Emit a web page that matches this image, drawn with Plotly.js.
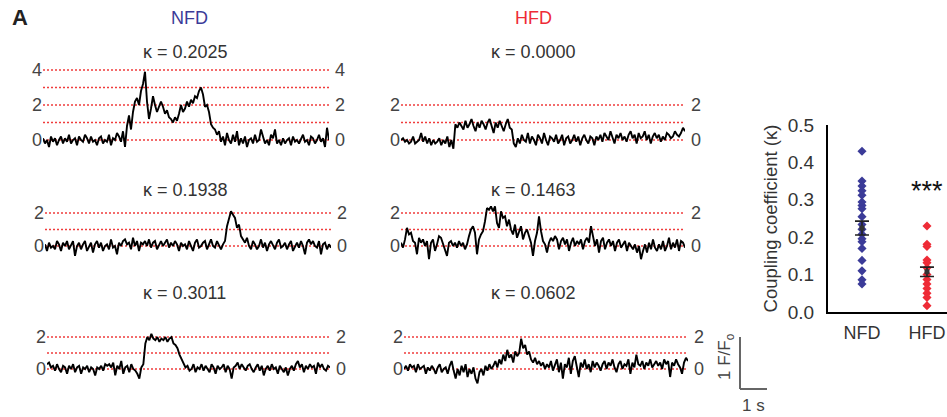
<!DOCTYPE html>
<html><head><meta charset="utf-8">
<script src="https://cdn.plot.ly/plotly-3.0.1.min.js"></script>
<style>html,body{margin:0;padding:0;background:#fff}#chart{width:947px;height:417px}</style>
</head><body><div id="chart"></div>
<script>
// ---- Data: Ca2+ traces (F/F0 - 1), sampled along time ----
const nfdTrace1 = [0.1,-0.2,0.0,-0.4,0.2,-0.1,0.1,-0.3,0.0,0.2,-0.2,0.1,-0.1,0.3,-0.2,0.0,0.1,-0.3,0.2,0.0,-0.1,0.3,0.1,-0.2,0.2,-0.1,0.0,-0.3,0.1,0.2,-0.2,0.0,-0.1,0.3,-0.3,0.1,0.0,0.4,0.2,-0.1,0.5,-0.4,
 0.8,1.4,0.6,1.6,2.2,2.4,2.0,2.8,3.2,3.9,2.2,1.2,1.8,2.5,2.0,1.6,1.9,2.2,1.9,1.5,1.7,1.3,1.2,1.0,1.3,1.1,1.5,2.0,1.6,1.8,2.2,1.9,2.3,2.1,2.5,2.4,2.8,3.0,2.6,1.9,2.0,1.6,0.9,0.7,0.6,0.3,0.5,-0.1,
 0.2,-0.3,0.4,0.0,-0.2,0.3,-0.1,0.5,-0.3,0.1,-0.2,0.2,-0.4,0.0,0.1,-0.2,0.3,-0.1,0.0,0.6,0.2,-0.2,0.0,-0.3,0.3,0.1,0.6,-0.2,0.0,-0.3,0.1,-0.2,0.0,0.1,-0.3,0.2,-0.1,0.0,-0.2,0.1,0.3,-0.1,0.0,-0.3,0.2,0.1,-0.2,0.0,0.3,-0.1,0.1,-0.4,0.7,0.0];
const nfdTrace2 = [0.1,-0.3,0.2,-0.1,0.0,-0.2,0.3,0.1,-0.3,0.2,0.0,0.3,-0.2,0.1,0.3,-0.6,0.0,0.2,-0.2,0.1,0.3,-0.3,0.0,0.2,-0.4,0.1,0.3,-0.1,0.2,-0.3,0.0,0.1,-0.2,0.4,-0.1,0.0,-0.5,0.2,0.0,0.3,0.4,0.1,0.2,-0.2,0.5,0.0,0.3,-0.3,0.2,0.1,0.3,0.0,0.4,-0.1,0.2,0.3,-0.2,0.1,0.3,0.0,0.2,0.4,-0.1,0.2,0.0,0.3,0.1,-0.3,0.2,0.0,0.1,-0.2,0.3,0.0,-0.3,0.2,0.4,-0.1,0.0,0.2,0.3,-0.2,0.1,0.4,0.0,-0.1,0.3,0.0,-0.2,0.1,
 0.3,1.2,1.6,2.1,1.9,1.7,1.1,1.3,0.6,0.4,0.2,
 0.5,0.0,-0.2,0.3,0.1,-0.2,0.0,0.4,-0.1,0.2,-0.3,0.1,0.3,0.0,-0.2,0.2,0.4,-0.1,0.0,0.2,-0.2,0.1,0.3,-0.3,0.0,0.2,-0.1,0.3,0.0,-0.5,0.2,0.4,0.1,0.3,0.0,-0.1,0.3,-0.5,0.1,0.2,-0.2,0.1,-0.1];
const nfdTrace3 = [0.3,0.4,0.1,0.2,-0.1,0.3,0.0,-0.2,0.2,0.1,-0.3,0.2,0.0,0.3,-0.2,0.1,0.2,-0.3,0.1,0.0,0.2,-0.2,0.1,0.0,-0.4,0.1,0.0,0.2,-0.1,0.3,0.2,0.3,0.1,0.4,-0.4,0.2,0.0,0.5,-0.3,0.1,0.2,-0.2,0.3,0.0,-0.1,-0.3,-0.6,0.1,
 0.3,1.6,2.0,1.8,2.2,1.9,1.8,2.0,1.7,1.9,1.8,2.0,1.7,1.9,2.0,1.6,1.5,1.3,0.9,0.6,0.3,0.1,
 0.2,-0.1,0.0,0.3,-0.2,0.1,0.0,0.3,-0.1,0.2,0.0,-0.2,0.3,0.1,-0.3,0.2,0.0,0.1,0.3,-0.2,0.2,0.0,-0.6,0.1,0.2,0.4,0.0,0.3,0.1,-0.1,0.2,0.3,0.0,-0.2,0.1,0.3,-0.1,0.2,-0.4,0.0,0.2,-0.1,0.3,0.0,0.1,-0.3,0.2,0.0,-0.2,0.1,-0.4,0.0,0.2,-0.1,0.3,0.5,0.1,0.3,-0.2,0.2,0.0,0.3,0.1,0.2,-0.3,0.4,0.1,0.3,0.0,-0.1,0.2,0.1];
const hfdTrace1 = [0.0,0.1,-0.1,0.0,-0.2,-0.1,0.2,-0.2,-0.1,0.0,0.4,-0.1,0.2,-0.2,0.1,-0.3,0.0,-0.2,-0.1,0.1,-0.3,0.0,-0.2,0.2,-0.4,0.0,-0.5,
 0.9,0.7,1.0,0.8,0.6,1.1,0.7,0.9,1.2,0.8,0.5,1.0,0.7,1.1,0.9,0.6,1.0,1.2,0.8,0.4,1.0,0.7,1.1,0.8,0.5,0.9,1.2,0.7,0.6,
 -0.2,-0.4,0.1,-0.2,0.3,0.0,-0.1,0.4,-0.2,0.2,0.0,-0.3,0.3,0.1,-0.2,0.4,0.0,-0.3,0.2,0.1,-0.1,0.3,-0.2,0.0,0.3,-0.3,0.1,0.2,-0.2,0.0,0.3,-0.1,0.2,-0.3,0.1,0.3,0.0,-0.2,0.2,0.1,-0.3,0.2,0.0,0.3,-0.1,0.4,0.2,0.0,0.5,0.2,-0.2,0.3,0.1,0.4,0.0,0.2,-0.1,0.3,0.5,0.1,0.3,-0.2,0.4,0.1,0.2,0.5,0.0,0.3,-0.2,0.2,0.4,0.1,0.3,-0.1,0.2,0.0,0.4,0.3,0.1,0.2,0.5,0.3,0.2,0.4,0.7,0.5];
const hfdTrace2 = [0.2,-0.1,0.4,1.1,0.7,0.8,0.3,0.2,-0.5,0.5,0.2,0.4,0.0,0.3,-0.8,0.2,0.4,-0.3,0.1,0.6,0.5,0.1,-0.2,-0.6,0.2,0.3,0.0,0.2,-0.1,0.3,0.0,0.2,-0.2,0.1,0.6,1.0,1.2,0.8,-0.5,0.4,
 0.7,0.9,1.5,2.3,2.2,2.4,2.1,2.4,1.4,1.1,2.1,1.7,1.8,1.2,1.6,1.0,0.7,1.3,0.5,0.9,1.2,0.4,0.8,1.0,0.6,0.2,-0.6,0.3,0.8,1.8,
 0.9,0.3,0.1,-0.4,0.2,0.5,0.3,0.6,0.4,-0.2,0.3,0.5,0.1,0.4,-0.3,0.2,0.5,0.0,0.3,0.1,0.4,-0.2,0.3,0.5,0.2,1.2,0.6,0.0,0.4,-0.4,0.3,0.5,-0.2,0.2,0.4,0.0,0.3,-0.3,0.2,0.4,-0.1,0.1,0.3,-0.3,0.2,0.0,-0.2,0.1,-0.4,0.0,-0.8,-0.3,0.1,-0.4,0.2,-0.2,0.4,-0.1,-0.3,0.1,-0.2,0.3,-0.3,0.0,0.5,-0.2,0.2,-0.1,0.4,-0.3,0.3,0.2,-0.1];
const hfdTrace3 = [0.0,0.2,-0.1,0.3,0.1,0.2,-0.2,0.3,0.0,0.1,0.2,-0.3,0.1,-0.1,0.2,0.0,-0.3,0.1,0.3,-0.2,0.0,0.1,-0.3,0.2,0.5,-0.1,-0.6,0.0,-0.4,0.2,-0.2,0.3,-0.5,0.0,-0.3,0.1,-0.6,-0.9,-0.2,0.0,
 -0.4,0.2,-0.1,0.3,0.0,0.2,0.5,0.1,0.6,0.3,0.9,0.5,1.2,0.7,0.9,0.4,1.1,0.8,1.0,1.9,1.3,1.5,0.9,1.1,0.6,0.4,0.7,0.3,0.5,0.2,
 0.4,0.0,0.3,0.1,0.5,-0.1,0.3,0.6,-0.2,0.4,-0.6,0.3,0.1,0.7,-0.3,0.5,0.8,0.2,-0.5,0.4,0.1,0.6,0.0,0.3,-0.2,0.5,0.1,0.4,0.2,-0.1,0.3,0.5,0.0,0.4,0.2,0.6,0.1,-0.2,0.3,0.5,0.0,0.3,0.2,0.6,-0.3,0.4,0.1,0.9,0.3,0.2,0.5,0.0,0.4,0.2,0.6,0.1,0.3,0.5,0.2,0.4,0.0,0.6,0.3,0.5,-0.5,0.4,0.2,0.6,0.3,0.1,-0.3,0.4,0.7,0.5];

const kappaLabels = ['κ = 0.2025','κ = 0.0000','κ = 0.1938','κ = 0.1463','κ = 0.3011','κ = 0.0602'];
const tickValsTall = [0,2,4];
const tickValsShort = [0,2];
const gridValsTall = [0,1,2,3,4];
const gridValsShort = [0,1,2];

// ---- Data: coupling coefficient summary ----
const groups = ['NFD','HFD'];
const nfdKappa = [0.430,0.350,0.337,0.324,0.312,0.294,0.285,0.276,0.255,0.234,0.221,0.208,0.196,0.188,0.170,0.138,0.110,0.086,0.075];
const hfdKappa = [0.230,0.181,0.175,0.139,0.132,0.118,0.100,0.087,0.075,0.063,0.050,0.039,0.017];
const groupMeans = [0.2245,0.1075];
const groupSems = [0.0185,0.0125];
const summaryTicks = [0,0.1,0.2,0.3,0.4,0.5];

// ---- Layout helpers ----
const W = 947, H = 417;
const FONT = 'Liberation Sans, Arial, sans-serif';
const GRID = '#f03c3c';
const px = x => x / W;
const py = y => 1 - y / H;

const panels = [
  {y: nfdTrace1, xd:[43,329], py0:140, s:17.5, yr:[-1.1,4.35], tv:tickValsTall, gv:gridValsTall, k:kappaLabels[0], kx:185, ky:52},
  {y: hfdTrace1, xd:[401,685], py0:140, s:17.5, yr:[-1.1,2.5], tv:tickValsShort, gv:gridValsShort, k:kappaLabels[1], kx:533, ky:52},
  {y: nfdTrace2, xd:[45,331], py0:246, s:16.5, yr:[-1.1,2.6], tv:tickValsShort, gv:gridValsShort, k:kappaLabels[2], kx:185, ky:190},
  {y: hfdTrace2, xd:[401,685], py0:246, s:16.5, yr:[-1.1,2.6], tv:tickValsShort, gv:gridValsShort, k:kappaLabels[3], kx:533, ky:190},
  {y: nfdTrace3, xd:[47,330], py0:369, s:16, yr:[-1.2,2.4], tv:tickValsShort, gv:gridValsShort, k:kappaLabels[4], kx:184, ky:293},
  {y: hfdTrace3, xd:[404,688], py0:369, s:16, yr:[-1.2,2.4], tv:tickValsShort, gv:gridValsShort, k:kappaLabels[5], kx:533, ky:293}
];

const data = [];
const layout = {
  width: W, height: H,
  margin: {l:0, r:0, t:0, b:0},
  paper_bgcolor: '#fff', plot_bgcolor: 'rgba(0,0,0,0)',
  showlegend: false,
  font: {family: FONT, color: '#444', size: 18},
  annotations: [], shapes: []
};

panels.forEach((p, i) => {
  const n = i + 1;
  const xa = 'xaxis' + (n === 1 ? '' : n), ya = 'yaxis' + (n === 1 ? '' : n);
  const xr = 'x' + (n === 1 ? '' : n), yr = 'y' + (n === 1 ? '' : n);
  data.push({type:'scatter', mode:'lines', y:p.y, xaxis:xr, yaxis:yr,
    line:{color:'#000', width:1.9}, hoverinfo:'skip'});
  layout[xa] = {domain:[px(p.xd[0]), px(p.xd[1])], range:[0, p.y.length-1], anchor:yr,
    showgrid:false, zeroline:false, showline:false, showticklabels:false, ticks:'', fixedrange:true};
  layout[ya] = {domain:[py(p.py0 - p.s*p.yr[0]), py(p.py0 - p.s*p.yr[1])], range:p.yr, anchor:xr,
    tickmode:'array', tickvals:p.tv, showgrid:false,
    zeroline:false, showline:false, ticks:'', tickfont:{size:18, color:'#444'}, fixedrange:true};
  p.gv.forEach(v => {
    layout.shapes.push({type:'line', layer:'below', xref:xr + ' domain', yref:yr, x0:0, x1:1, y0:v, y1:v,
      line:{color:GRID, width:1.3, dash:'2px,2px'}});
  });
  p.tv.forEach(v => {
    layout.annotations.push({xref:'paper', yref:yr, x:px(p.xd[1]+4), y:v, text:String(v),
      showarrow:false, xanchor:'left', yanchor:'middle', font:{size:18, color:'#444'}});
  });
  layout.annotations.push({xref:'paper', yref:'paper', x:px(p.kx), y:py(p.ky), text:p.k,
    showarrow:false, xanchor:'center', yanchor:'middle', font:{size:18, color:'#333'}});
});

// summary scatter
data.push({type:'scatter', mode:'markers', x:nfdKappa.map(() => 0), y:nfdKappa, xaxis:'x7', yaxis:'y7',
  marker:{symbol:'diamond', size:7, color:'#3b3b98'}, hoverinfo:'y'});
data.push({type:'scatter', mode:'markers', x:hfdKappa.map(() => 1), y:hfdKappa, xaxis:'x7', yaxis:'y7',
  marker:{symbol:'diamond', size:7, color:'#ee2b36'}, hoverinfo:'y'});
data.push({type:'scatter', mode:'markers', x:[0,1], y:groupMeans, xaxis:'x7', yaxis:'y7',
  marker:{symbol:'square', size:5, color:'#333'},
  error_y:{type:'data', array:groupSems, visible:true, color:'#222', thickness:1.6, width:7}, hoverinfo:'y'});

layout.xaxis7 = {domain:[px(828), 1], range:[-0.523, 1.308], anchor:'y7',
  tickvals:[0,1], ticktext:groups, showline:true, linecolor:'#000', linewidth:2,
  showgrid:false, zeroline:false, ticks:'outside', ticklen:3, tickcolor:'rgba(0,0,0,0)',
  tickfont:{size:18, color:'#333'}, fixedrange:true};
layout.yaxis7 = {domain:[py(312), py(125)], range:[0, 0.5], anchor:'x7',
  tickvals:summaryTicks, tickformat:'.1f', showline:true, linecolor:'#000', linewidth:2,
  showgrid:false, zeroline:false, ticks:'outside', ticklen:8, tickcolor:'rgba(0,0,0,0)',
  tickfont:{size:19, color:'#333'}, fixedrange:true,
  title:{text:'Coupling coefficient (κ)', font:{size:18.5, color:'#333'}, standoff:5}};

// headers
layout.annotations.push(
  {xref:'paper', yref:'paper', x:px(20), y:py(18), text:'<b>A</b>', showarrow:false,
   xanchor:'center', yanchor:'middle', font:{size:22, color:'#222'}},
  {xref:'paper', yref:'paper', x:px(189), y:py(18), text:'NFD', showarrow:false,
   xanchor:'center', yanchor:'middle', font:{size:18, color:'#3b3b98'}},
  {xref:'paper', yref:'paper', x:px(533), y:py(18), text:'HFD', showarrow:false,
   xanchor:'center', yanchor:'middle', font:{size:18, color:'#ee2b36'}},
  {xref:'paper', yref:'paper', x:px(927), y:py(191), text:'***', showarrow:false,
   xanchor:'center', yanchor:'middle', font:{size:27, color:'#111'}},
  {xref:'paper', yref:'paper', x:px(753), y:py(405), text:'1 s', showarrow:false,
   xanchor:'center', yanchor:'middle', font:{size:17, color:'#444'}},
  {xref:'paper', yref:'paper', x:px(726), y:py(357), text:'1 F/F<sub>o</sub>', showarrow:false,
   textangle:-90, xanchor:'center', yanchor:'middle', font:{size:17, color:'#444'}}
);

// scale bar
layout.shapes.push(
  {type:'line', xref:'paper', yref:'paper', x0:px(740), x1:px(740), y0:py(337), y1:py(389), line:{color:'#666', width:2}},
  {type:'line', xref:'paper', yref:'paper', x0:px(740), x1:px(767), y0:py(389), y1:py(389), line:{color:'#666', width:2}}
);

Plotly.newPlot('chart', data, layout, {staticPlot:true, displayModeBar:false});
</script></body></html>
